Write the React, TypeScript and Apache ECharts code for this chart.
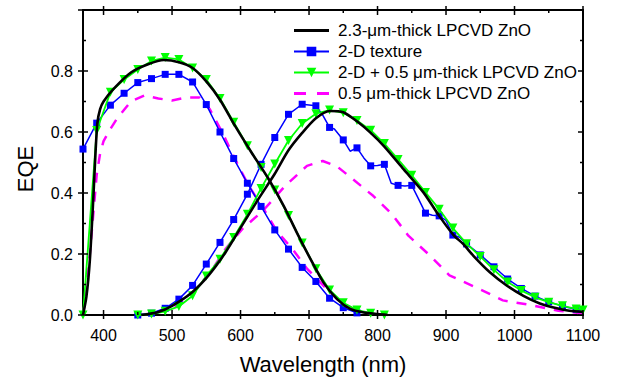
import React, { useEffect, useRef } from 'react';
import * as echarts from 'echarts';

const FONT = "'Liberation Sans', Arial, Helvetica, sans-serif";

const xMajor = [400, 500, 600, 700, 800, 900, 1000, 1100];
const xAllTicks = [400, 450, 500, 550, 600, 650, 700, 750, 800, 850, 900, 950, 1000, 1050, 1100];
const yMajor = [0, 0.2, 0.4, 0.6, 0.8, 1.0];
const yAllTicks = [0, 0.1, 0.2, 0.3, 0.4, 0.5, 0.6, 0.7, 0.8, 0.9, 1.0];

const legendNames = [
  '2.3-\u03bcm-thick LPCVD ZnO',
  '2-D texture',
  '2-D + 0.5 \u03bcm-thick LPCVD ZnO',
  '0.5 \u03bcm-thick LPCVD ZnO',
];

// 2.3-um-thick LPCVD ZnO (black)
const blackTop: [number, number][] = [
  [370, 0], [375, 0.06], [380, 0.18], [385, 0.38], [388, 0.52], [391, 0.63], [395, 0.675], [400, 0.7],
  [415, 0.742], [440, 0.795], [465, 0.822], [488, 0.836], [510, 0.829], [530, 0.81], [550, 0.766],
  [570, 0.706], [592, 0.62], [616, 0.533], [641, 0.446], [663, 0.358], [682, 0.271], [702, 0.184],
  [721, 0.107], [741, 0.052], [760, 0.02], [780, 0.008], [800, 0.003], [815, 0],
];
const blackBottom: [number, number][] = [
  [455, 0], [480, 0.01], [500, 0.03], [529, 0.074], [553, 0.129], [578, 0.205], [602, 0.293],
  [626, 0.38], [650, 0.463], [670, 0.54], [690, 0.597], [710, 0.645], [730, 0.669], [750, 0.665],
  [770, 0.635], [790, 0.597], [810, 0.552], [838, 0.478], [867, 0.402], [890, 0.325], [911, 0.262],
  [925, 0.233], [940, 0.194], [964, 0.14], [989, 0.096], [1013, 0.063], [1037, 0.038], [1062, 0.022],
  [1080, 0.014], [1100, 0.01],
];

// 2-D texture (blue)
const blueTop: [number, number][] = [
  [370, 0.544], [390, 0.629], [410, 0.688], [430, 0.727], [450, 0.762], [470, 0.775], [490, 0.789],
  [510, 0.789], [530, 0.764], [550, 0.69], [570, 0.6], [590, 0.513], [610, 0.432], [630, 0.356],
  [650, 0.279], [670, 0.216], [690, 0.156], [710, 0.11], [730, 0.055], [750, 0.024], [770, 0.007],
];
const blueBottom: [number, number][] = [
  [450, 0], [470, 0.006], [490, 0.022], [510, 0.052], [530, 0.097], [550, 0.167], [570, 0.238],
  [590, 0.313], [610, 0.396], [630, 0.494], [650, 0.582], [670, 0.658], [690, 0.691], [710, 0.686],
  [720, 0.655], [730, 0.615], [737, 0.61], [750, 0.574], [760, 0.537], [770, 0.548], [780, 0.515],
  [790, 0.489], [800, 0.49], [810, 0.494], [820, 0.432], [830, 0.425], [840, 0.423], [850, 0.425],
  [860, 0.38], [870, 0.334], [880, 0.327], [890, 0.325], [900, 0.31], [910, 0.262], [920, 0.255],
  [930, 0.233], [940, 0.215], [950, 0.197], [970, 0.158], [990, 0.118], [1010, 0.087], [1030, 0.062],
  [1050, 0.043], [1070, 0.029], [1090, 0.019], [1100, 0.015],
];

// 2-D + 0.5 um-thick LPCVD ZnO (green)
const greenTop: [number, number][] = [
  [370, 0], [390, 0.605], [410, 0.73], [430, 0.772], [450, 0.805], [470, 0.833], [490, 0.844],
  [510, 0.838], [530, 0.81], [550, 0.772], [570, 0.71], [590, 0.632], [610, 0.555], [630, 0.484],
  [650, 0.41], [670, 0.326], [690, 0.236], [710, 0.152], [730, 0.082], [750, 0.04], [770, 0.016],
  [790, 0.006], [810, 0],
];
const greenBottom: [number, number][] = [
  [450, 0], [470, 0.003], [490, 0.012], [510, 0.028], [530, 0.063], [550, 0.128], [570, 0.183],
  [590, 0.254], [610, 0.33], [630, 0.415], [650, 0.495], [670, 0.572], [690, 0.628], [710, 0.66],
  [730, 0.672], [750, 0.663], [770, 0.638], [790, 0.606], [810, 0.562], [830, 0.51], [850, 0.458],
  [870, 0.402], [890, 0.347], [910, 0.285], [930, 0.234], [950, 0.192], [970, 0.148], [990, 0.108],
  [1010, 0.08], [1030, 0.058], [1050, 0.042], [1070, 0.03], [1090, 0.02], [1100, 0.016],
];

// 0.5 um-thick LPCVD ZnO (magenta dashed)
const pinkTop: [number, number][] = [
  [370, 0], [375, 0.08], [380, 0.2], [385, 0.33], [390, 0.46], [395, 0.53], [400, 0.57], [410, 0.61],
  [420, 0.645], [440, 0.7], [460, 0.72], [480, 0.71], [500, 0.703], [520, 0.713], [540, 0.713],
  [555, 0.675], [573, 0.6], [592, 0.511], [612, 0.423], [631, 0.358], [653, 0.275], [677, 0.213],
  [697, 0.152], [721, 0.096], [745, 0.043], [770, 0.014], [790, 0.005], [810, 0],
];
const pinkBottom: [number, number][] = [
  [450, 0], [470, 0.005], [490, 0.015], [510, 0.035], [531, 0.074], [556, 0.14], [578, 0.216],
  [603, 0.283], [632, 0.34], [665, 0.423], [697, 0.489], [720, 0.505], [741, 0.487], [763, 0.447],
  [794, 0.39], [821, 0.331], [845, 0.26], [877, 0.194], [905, 0.13], [946, 0.088], [983, 0.048],
  [1023, 0.033], [1064, 0.014], [1100, 0.005],
];

const BLACK = '#000000';
const BLUE = '#0000ff';
const GREEN = '#00ff00';
const PINK = '#ff00ff';

const X_MIN = 370;
const X_MAX = 1100;
const Y_MIN = 0;
const Y_MAX = 1;

export default function App() {
  const ref = useRef<HTMLDivElement>(null);

  useEffect(() => {
    if (!ref.current) return;
    const chart = echarts.init(ref.current, undefined, { renderer: 'svg' });

    const axisLineStyle = { color: '#000', width: 2 };
    const tickStyle = { stroke: '#000', lineWidth: 1.5 };

    const blueMarked = (d: [number, number][]) =>
      d.map(([x, y]) => (x % 20 === 10 ? [x, y] : { value: [x, y], symbol: 'none' }));

    const blackSeries = (data: [number, number][]) => ({
      name: legendNames[0], type: 'line', data, symbol: 'none', smooth: 0.25, z: 6,
      lineStyle: { color: BLACK, width: 2.6 }, itemStyle: { color: BLACK },
    });
    const blueSeries = (data: [number, number][]) => ({
      name: legendNames[1], type: 'line', data: blueMarked(data), symbol: 'rect', symbolSize: 7, z: 4,
      lineStyle: { color: BLUE, width: 1.5 }, itemStyle: { color: BLUE },
    });
    const greenSeries = (data: [number, number][]) => ({
      name: legendNames[2], type: 'line', data, symbol: 'triangle', symbolRotate: 180, symbolSize: 9, z: 5,
      lineStyle: { color: GREEN, width: 1.8 }, itemStyle: { color: GREEN },
    });
    const pinkSeries = (data: [number, number][]) => ({
      name: legendNames[3], type: 'line', data, symbol: 'none', z: 3,
      lineStyle: { color: PINK, width: 2.5, type: [10, 9] }, itemStyle: { color: PINK },
    });

    // frame ticks drawn through the axis scales (api.coord)
    const xTickSeries = {
      type: 'custom', z: 10, clip: false, silent: true,
      data: xAllTicks.map((v) => [v, xMajor.includes(v) ? 1 : 0]),
      renderItem: (_p: any, api: any) => {
        const v = api.value(0);
        const major = api.value(1) === 1;
        const b = api.coord([v, Y_MIN]);
        const t = api.coord([v, Y_MAX]);
        const inL = major ? 5 : 3;
        const outL = major ? 4 : 0;
        return {
          type: 'group',
          children: [
            { type: 'line', shape: { x1: b[0], y1: b[1] + outL, x2: b[0], y2: b[1] - inL }, style: tickStyle },
            { type: 'line', shape: { x1: t[0], y1: t[1] - outL, x2: t[0], y2: t[1] + inL }, style: tickStyle },
          ],
        };
      },
    };
    const yTickSeries = {
      type: 'custom', z: 10, clip: false, silent: true,
      data: yAllTicks.map((v) => [X_MIN, v, yMajor.some((m) => Math.abs(m - v) < 1e-9) ? 1 : 0]),
      encode: { x: 0, y: 1 },
      renderItem: (_p: any, api: any) => {
        const v = api.value(1);
        const major = api.value(2) === 1;
        const l = api.coord([X_MIN, v]);
        const r = api.coord([X_MAX, v]);
        const inL = major ? 5 : 3;
        const outL = major ? 5 : 0;
        return {
          type: 'group',
          children: [
            { type: 'line', shape: { x1: l[0] - outL, y1: l[1], x2: l[0] + inL, y2: l[1] }, style: tickStyle },
            { type: 'line', shape: { x1: r[0], y1: r[1], x2: r[0] - inL, y2: r[1] }, style: tickStyle },
          ],
        };
      },
    };

    chart.setOption({
      animation: false,
      backgroundColor: '#ffffff',
      grid: { left: 83, right: 37, top: 10, bottom: 64 },
      legend: {
        orient: 'vertical', left: 288, top: 17, itemWidth: 35, itemHeight: 12, itemGap: 4,
        data: [
          { name: legendNames[0], icon: 'path://M0,0h35v3h-35z' },
          { name: legendNames[1] },
          { name: legendNames[2] },
          { name: legendNames[3], icon: 'path://M0,0h12v3h-12zM23,0h12v3h-12z' },
        ],
        textStyle: { fontSize: 17, fontFamily: FONT, color: '#000', padding: [0, 0, 0, 4] },
      },
      graphic: [
        {
          type: 'text', x: 25, y: 169, rotation: Math.PI / 2,
          style: { text: 'EQE', fontSize: 22, fontFamily: FONT, fill: '#000', align: 'center', verticalAlign: 'middle' },
        },
      ],
      xAxis: [
        {
          type: 'value', min: X_MIN, max: X_MAX, position: 'bottom', splitLine: { show: false },
          axisLine: { show: true, onZero: false, lineStyle: axisLineStyle },
          axisTick: { show: false },
          axisLabel: {
            customValues: xMajor, margin: 12, fontSize: 16, color: '#000', fontFamily: FONT,
            formatter: (v: number) => String(v),
          },
          name: 'Wavelength (nm)', nameLocation: 'middle', nameGap: 38,
          nameTextStyle: { fontSize: 22, fontFamily: FONT, color: '#000', padding: [0, 20, 0, 0] },
        },
        {
          type: 'value', min: X_MIN, max: X_MAX, position: 'top', splitLine: { show: false },
          axisLine: { show: true, onZero: false, lineStyle: axisLineStyle },
          axisTick: { show: false },
          axisLabel: { show: false },
        },
      ],
      yAxis: [
        {
          type: 'value', min: Y_MIN, max: Y_MAX, interval: 0.2, position: 'left', splitLine: { show: false },
          axisLine: { show: true, onZero: false, lineStyle: axisLineStyle },
          axisTick: { show: false },
          axisLabel: {
            margin: 10, fontSize: 16, color: '#000', fontFamily: FONT,
            formatter: (v: number) => (v >= 0.999 ? '' : v.toFixed(1)),
          },
        },
        {
          type: 'value', min: Y_MIN, max: Y_MAX, interval: 0.2, position: 'right', splitLine: { show: false },
          axisLine: { show: true, onZero: false, lineStyle: axisLineStyle },
          axisTick: { show: false },
          axisLabel: { show: false },
        },
      ],
      series: [
        blackSeries(blackTop), blackSeries(blackBottom),
        blueSeries(blueTop), blueSeries(blueBottom),
        greenSeries(greenTop), greenSeries(greenBottom),
        pinkSeries(pinkTop), pinkSeries(pinkBottom),
        xTickSeries, yTickSeries,
      ],
    });

    return () => chart.dispose();
  }, []);

  return (
    <div
      ref={ref}
      style={{ position: 'fixed', left: 0, top: 0, width: 620, height: 380, background: '#fff' }}
    />
  );
}
